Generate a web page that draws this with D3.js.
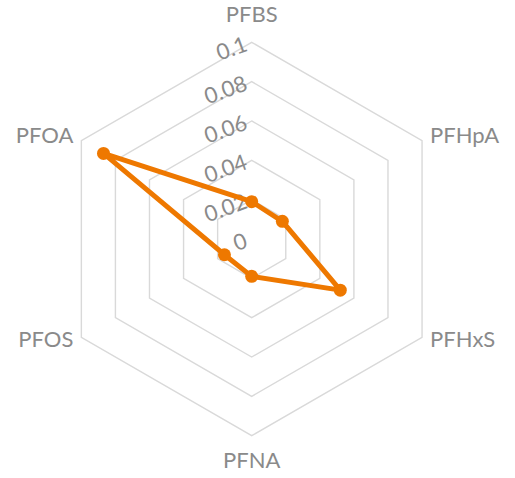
<!DOCTYPE html>
<html>
<head>
<meta charset="utf-8">
<script src="https://cdn.jsdelivr.net/npm/d3@7"></script>
<style>
  html, body { margin: 0; padding: 0; background: #fff; }
  svg { display: block; }
  text { font-family: Lato, "Open Sans", sans-serif; fill: #8a8a8a; }
</style>
</head>
<body>
<svg id="chart" width="515" height="478"></svg>
<script>
// Radar chart of PFAS concentrations
const categories = ["PFBS", "PFHpA", "PFHxS", "PFNA", "PFOS", "PFOA"];
const values = [0.019, 0.018, 0.052, 0.019, 0.016, 0.087];
const tickValues = [0, 0.02, 0.04, 0.06, 0.08, 0.1];
const tickLabels = ["0", "0.02", "0.04", "0.06", "0.08", "0.1"];

const svg = d3.select("#chart");
const cx = 251.7, cy = 239, R = 196.7;

const r = d3.scaleLinear().domain([0, 0.1]).range([0, R]);
const angle = d3.scaleLinear().domain([0, categories.length]).range([0, 2 * Math.PI]);

const pt = (i, v) => {
  const a = angle(i);
  return [cx + r(v) * Math.sin(a), cy - r(v) * Math.cos(a)];
};

const g = svg.append("g");

// Hexagonal grid rings (no spokes)
const ring = d3.line().curve(d3.curveLinearClosed);
g.selectAll("path.grid")
  .data(tickValues.filter(t => t > 0))
  .join("path")
  .attr("class", "grid")
  .attr("d", t => ring(categories.map((_, i) => pt(i, t))))
  .attr("fill", "none")
  .attr("stroke", "#d9d9d9")
  .attr("stroke-width", 1.4);

// Radial tick labels along the first axis
g.selectAll("text.tick")
  .data(tickValues)
  .join("text")
  .attr("class", "tick")
  .attr("text-anchor", "end")
  .attr("font-size", 22)
  .attr("transform", (t) => `translate(${cx - 3},${cy - r(t) + 8}) rotate(-20)`)
  .text((t, i) => tickLabels[i]);

// Category labels
const labelPos = [
  { dx: 0, dy: -20, anchor: "middle" },
  { dx: 8, dy: 2, anchor: "start" },
  { dx: 8, dy: 10, anchor: "start" },
  { dx: 0, dy: 32, anchor: "middle" },
  { dx: -8, dy: 10, anchor: "end" },
  { dx: -8, dy: 2, anchor: "end" }
];
g.selectAll("text.cat")
  .data(categories)
  .join("text")
  .attr("class", "cat")
  .attr("font-size", 22)
  .attr("text-anchor", (_, i) => labelPos[i].anchor)
  .attr("x", (_, i) => pt(i, 0.1)[0] + labelPos[i].dx)
  .attr("y", (_, i) => pt(i, 0.1)[1] + labelPos[i].dy)
  .text(d => d);

// Series line and markers
const pts = values.map((v, i) => pt(i, v));
g.append("path")
  .attr("d", ring(pts))
  .attr("fill", "none")
  .attr("stroke", "#ee7800")
  .attr("stroke-width", 5)
  .attr("stroke-linejoin", "round");

g.selectAll("circle.mark")
  .data(values)
  .join("circle")
  .attr("class", "mark")
  .attr("cx", (v, i) => pt(i, v)[0])
  .attr("cy", (v, i) => pt(i, v)[1])
  .attr("r", 6.5)
  .attr("fill", "#ee7800");
</script>
</body>
</html>
